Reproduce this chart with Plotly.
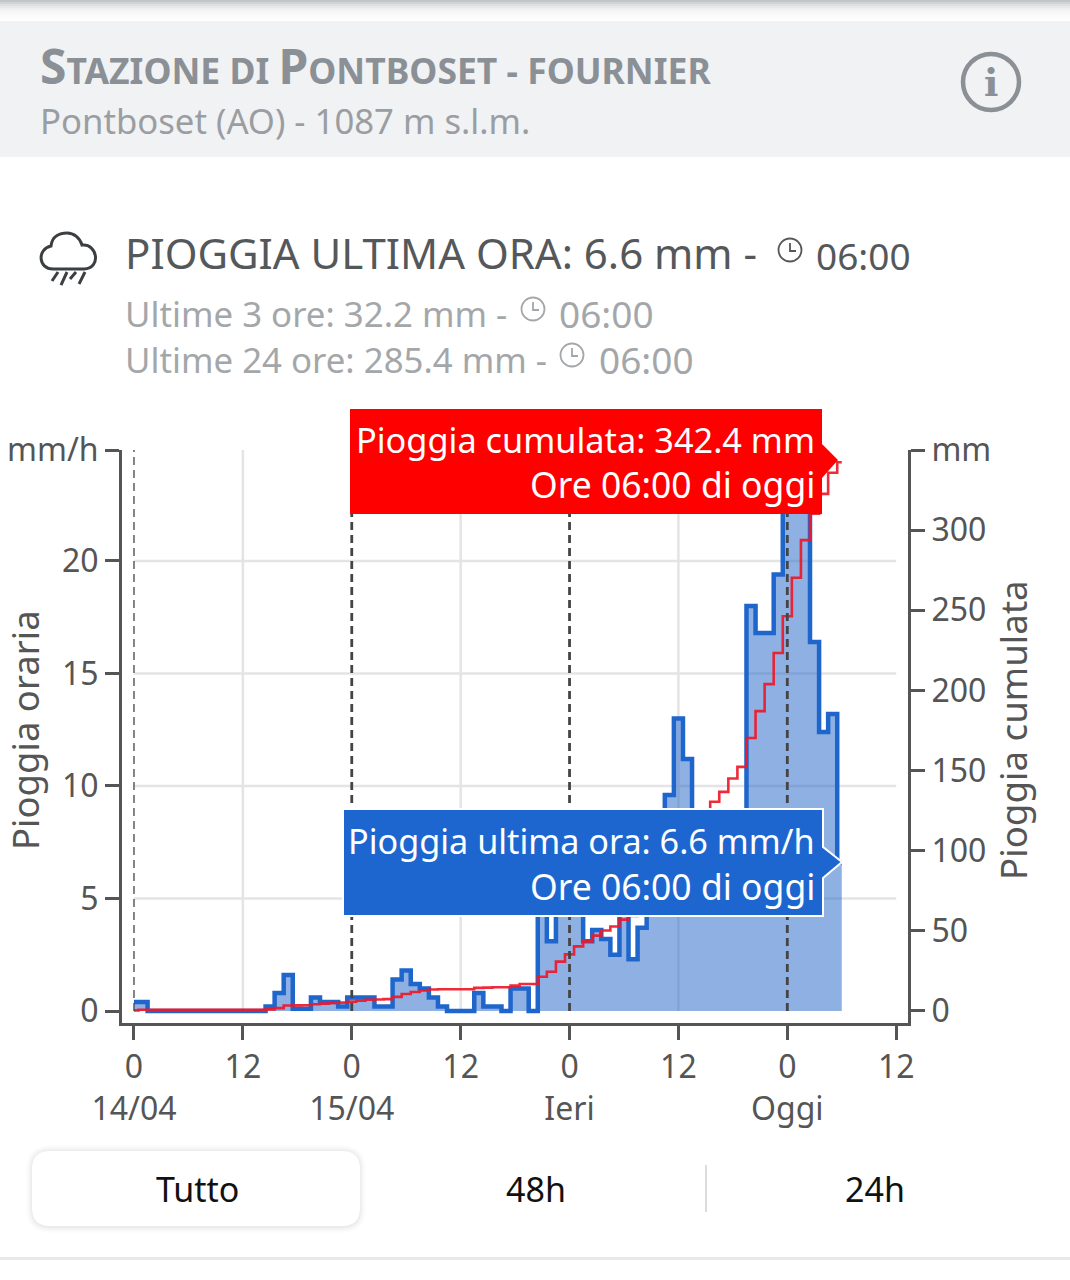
import plotly.graph_objects as go

W, H = 1070, 1280
FONT = "Noto Sans"

hours = list(range(79))
hourly_rain = [0.4, 0.4, 0, 0, 0, 0, 0, 0, 0, 0, 0, 0, 0, 0, 0, 0.2, 0.8, 1.6, 0.1, 0.1,
               0.6, 0.4, 0.4, 0.2, 0.6, 0.6, 0.6, 0.2, 0.2, 1.4, 1.8, 1.2, 1.0, 0.6, 0.2, 0, 0, 0, 0.8, 0.2,
               0.2, 0, 1.0, 1.0, 0, 4.6, 3.1, 6.3, 4.5, 5.0, 3.1, 3.6, 3.2, 2.5, 4.3, 2.3, 3.7, 5.0, 8.0, 9.6,
               13.0, 11.2, 7.5, 7.2, 6.0, 6.2, 8.3, 7.3, 18.0, 16.8, 16.8, 19.4, 23.0, 24.0, 23.5, 16.4, 12.4, 13.2, 6.6]
cumulative_rain = [0.4, 0.8, 0.8, 0.8, 0.8, 0.8, 0.8, 0.8, 0.8, 0.8, 0.8, 0.8, 0.8, 0.8, 0.8, 1.0, 1.8, 3.4, 3.5, 3.6,
                   4.2, 4.6, 5.0, 5.2, 5.8, 6.4, 7.0, 7.2, 7.4, 8.8, 10.6, 11.8, 12.8, 13.4, 13.6, 13.6, 13.6, 13.6, 14.4, 14.6,
                   14.8, 14.8, 15.8, 16.8, 16.8, 21.4, 24.5, 30.8, 35.3, 40.3, 43.4, 47.0, 50.2, 52.7, 57.0, 59.3, 63.0, 68.0, 76.0, 85.6,
                   98.6, 109.8, 117.3, 124.5, 130.5, 136.7, 145.0, 152.3, 170.3, 187.1, 203.9, 223.3, 246.3, 270.3, 293.8, 310.2, 322.6, 335.8, 342.4]

x_ticks = [0, 12, 24, 36, 48, 60, 72, 84]
x_labels = ["0<br>14/04", "12", "0<br>15/04", "12", "0<br>Ieri", "12", "0<br>Oggi", "12"]
left_ticks = [0, 5, 10, 15, 20, 24.93]
left_labels = ["0", "5", "10", "15", "20", "mm/h"]
right_ticks = [0, 50, 100, 150, 200, 250, 300, 350]
right_labels = ["0", "50", "100", "150", "200", "250", "300", "mm"]
grid_x = [12, 36, 60]
grid_y = [5, 10, 15, 20]
midnights = [24, 48, 72]


def X(v):
    return v / W


def Y(v):
    return 1 - v / H


shapes = []
annotations = []


def rect(x0, y0, x1, y1, fill, layer="above"):
    shapes.append(dict(type="rect", xref="paper", yref="paper", x0=X(x0), x1=X(x1), y0=Y(y1), y1=Y(y0),
                       fillcolor=fill, line=dict(width=0), layer=layer))


def path(points, fill=None, stroke=None, width=0, layer="above", close=True):
    d = "M " + " L ".join(f"{X(a):.5f},{Y(b):.5f}" for a, b in points) + (" Z" if close else "")
    shapes.append(dict(type="path", xref="paper", yref="paper", path=d, fillcolor=fill or "rgba(0,0,0,0)",
                       line=dict(color=stroke or "rgba(0,0,0,0)", width=width), layer=layer))


def curve(d, stroke, width):
    out = []
    for tok in d.split():
        if "," in tok:
            a, b = tok.split(",")
            out.append(f"{X(float(a)):.5f},{Y(float(b)):.5f}")
        else:
            out.append(tok)
    shapes.append(dict(type="path", xref="paper", yref="paper", path=" ".join(out),
                       line=dict(color=stroke, width=width), layer="above"))


def circle(cx, cy, r, stroke, width):
    shapes.append(dict(type="circle", xref="paper", yref="paper", x0=X(cx - r), x1=X(cx + r), y0=Y(cy + r), y1=Y(cy - r),
                       line=dict(color=stroke, width=width), layer="above"))


def label(x, y, s, size, color, anchor="left", font=FONT, angle=0):
    annotations.append(dict(xref="paper", yref="paper", x=X(x), y=Y(y), text=s, showarrow=False, xanchor=anchor,
                            yanchor="middle", align=anchor, textangle=angle,
                            font=dict(family=font, size=size, color=color), borderpad=0, borderwidth=0))


def rounded(x0, y0, x1, y1, r, fill):
    d = (f"M {x0+r},{y0} L {x1-r},{y0} Q {x1},{y0} {x1},{y0+r} L {x1},{y1-r} Q {x1},{y1} {x1-r},{y1} "
         f"L {x0+r},{y1} Q {x0},{y1} {x0},{y1-r} L {x0},{y0+r} Q {x0},{y0} {x0+r},{y0} Z")
    out = []
    for tok in d.split():
        if "," in tok:
            a, b = tok.split(",")
            out.append(f"{X(float(a)):.5f},{Y(float(b)):.5f}")
        else:
            out.append(tok)
    shapes.append(dict(type="path", xref="paper", yref="paper", path=" ".join(out), fillcolor=fill,
                       line=dict(width=0), layer="above"))


def clock(cx, cy, color):
    circle(cx, cy, 11.5, color, 1.8)
    path([(cx, cy - 7), (cx, cy + 1), (cx + 6, cy + 1)], stroke=color, width=1.8, close=False)


# page furniture
for i, c in enumerate(["#c4c5c6", "#d2d3d4", "#dedfe0", "#e8e8e9", "#f0f0f1", "#f5f5f5", "#f8f8f8", "#fafafa", "#fcfcfc", "#fdfdfd"]):
    rect(0, i * 2, W, (i + 1) * 2, c, "below")
rect(0, 21, W, 157, "#f1f2f3", "below")
rect(0, 1257, W, 1260, "#e8e8e8", "below")

# gridlines
for g in grid_x:
    shapes.append(dict(type="line", xref="x", yref="y", x0=g, x1=g, y0=0, y1=left_ticks[-1],
                       line=dict(color="#e4e4e4", width=2.5), layer="below"))
for g in grid_y:
    shapes.append(dict(type="line", xref="x", yref="y", x0=x_ticks[0], x1=x_ticks[-1], y0=g, y1=g,
                       line=dict(color="#e4e4e4", width=2.5), layer="below"))

# day separators
shapes.append(dict(type="line", xref="x", yref="y", x0=0, x1=0, y0=0, y1=left_ticks[-1],
                   line=dict(color="#444", width=1.3, dash="8px,5px"), layer="above"))
for g in midnights:
    shapes.append(dict(type="line", xref="x", yref="y", x0=g, x1=g, y0=0, y1=left_ticks[-1],
                       line=dict(color="#444", width=2.8, dash="8px,5px"), layer="above"))

# callouts
path([(350, 409), (822, 409), (822, 444), (838, 460), (822, 478), (822, 514), (350, 514)], fill="#fe0000")
path([(343, 809), (823, 809), (823, 847), (842, 862), (823, 878), (823, 916), (343, 916)],
     fill="#1e66cf", stroke="white", width=2)
WHITE = "#ffffff"
label(815, 439, "Pioggia cumulata: 342.4 mm", 34.3, WHITE, "right")
label(815, 484, "Ore 06:00 di oggi", 35.5, WHITE, "right")
label(815, 840, "Pioggia ultima ora: 6.6 mm/h", 34.2, WHITE, "right")
label(815, 886, "Ore 06:00 di oggi", 35.5, WHITE, "right")

# header
HEAD = "#8a9095"
label(40, 66, '<b><span style="font-size:48px">S</span>TAZIONE DI <span style="font-size:48px">P</span>ONTBOSET - FOURNIER</b>',
      35.5, HEAD)
label(40, 121, "Pontboset (AO) - 1087 m s.l.m.", 34.7, "#9a9ea2")
circle(991, 82, 28, HEAD, 4.5)
label(991, 82, "<b>i</b>", 38, HEAD, "center", "DejaVu Serif")

# station readings
DARK = "#55585b"
GREY = "#a4a7aa"
label(125, 252, "PIOGGIA ULTIMA ORA: 6.6 mm -", 42, DARK)
clock(790, 250, DARK)
label(816, 256, "06:00", 37, DARK)
label(125, 313, "Ultime 3 ore: 32.2 mm -", 34.8, GREY)
clock(533, 309, GREY)
label(559, 313, "06:00", 37, GREY)
label(125, 359, "Ultime 24 ore: 285.4 mm -", 34.8, GREY)
clock(572, 355, GREY)
label(599, 359, "06:00", 37, GREY)

# rain cloud icon
ICON = "#3c3f42"
curve("M 53,269 C 38,269 37,249 51,246 C 52,236 60,233 67,233 C 74,233 80,238 82,245 C 97,243 102,268 84,269 Z", ICON, 3)
for x0, y1 in ((58, 281), (67, 285), (76, 279), (85, 284)):
    path([(x0, 272), (x0 - 6, y1)], stroke=ICON, width=3, close=False)

# range buttons
for off, c in [(6, "rgba(0,0,0,0.006)"), (5, "rgba(0,0,0,0.008)"), (4, "rgba(0,0,0,0.01)"), (3, "rgba(0,0,0,0.012)"), (2, "rgba(0,0,0,0.016)"), (1, "rgba(0,0,0,0.02)")]:
    rounded(32 - off, 1150 - off + 1, 360 + off, 1226 + off + 1, 18 + off, c)
rounded(32, 1151, 360, 1226, 18, "#ffffff")
label(197, 1189, "Tutto", 34, "#111", "center")
label(536, 1189, "48h", 34, "#111", "center")
label(875, 1189, "24h", 34, "#111", "center")
path([(706, 1165), (706, 1212)], stroke="#dcdcdc", width=2, close=False)

AX = "#555555"
TICK = dict(family=FONT, size=32, color="#555555")
label(25, 730, "Pioggia oraria", 36.5, "#555555", "center", angle=-90)
label(1013, 730, "Pioggia cumulata", 36.7, "#555555", "center", angle=-90)

fig = go.Figure()
fig.add_trace(go.Scatter(x=hours, y=hourly_rain, mode="lines", line=dict(shape="hvh", color="#1f66cc", width=4.5),
                         fill="tozeroy", fillcolor="rgba(30,98,200,0.5)", yaxis="y", showlegend=False, hoverinfo="skip"))
fig.add_trace(go.Scatter(x=hours, y=cumulative_rain, mode="lines", line=dict(shape="hvh", color="rgba(238,24,40,0.92)", width=2.6),
                         yaxis="y2", showlegend=False, hoverinfo="skip"))

fig.update_layout(
    width=W, height=H, autosize=False, margin=dict(l=0, r=0, t=0, b=0, autoexpand=False),
    paper_bgcolor="white", plot_bgcolor="rgba(0,0,0,0)", shapes=shapes, annotations=annotations,
    xaxis=dict(domain=[X(122), X(908)], range=[-1.32, 85.3], tickmode="array", tickvals=x_ticks, ticktext=x_labels,
               showgrid=False, zeroline=False, showline=True, linecolor=AX, linewidth=3, ticks="outside", ticklen=14,
               tickcolor=AX, tickwidth=2.5, tickfont=TICK, anchor="y"),
    yaxis=dict(domain=[Y(1023), Y(450)], range=[-0.533, 24.93], tickmode="array", tickvals=left_ticks, ticktext=left_labels,
               showgrid=False, zeroline=False, showline=True, linecolor=AX, linewidth=3, ticks="outside", ticklen=14,
               tickcolor=AX, tickwidth=2.5, tickfont=TICK, anchor="x", automargin=False),
    yaxis2=dict(domain=[Y(1023), Y(450)], range=[-7.5, 350], overlaying="y", side="right", tickmode="array",
                tickvals=right_ticks, ticktext=right_labels, showgrid=False, zeroline=False, showline=True, linecolor=AX,
                linewidth=3, ticks="outside", ticklen=14, tickcolor=AX, tickwidth=2.5, tickfont=TICK,
                anchor="x", automargin=False),
)

fig.write_html("out.html", config=dict(displayModeBar=False),
               post_script="document.body.style.margin='0';document.documentElement.style.overflow='hidden';")
